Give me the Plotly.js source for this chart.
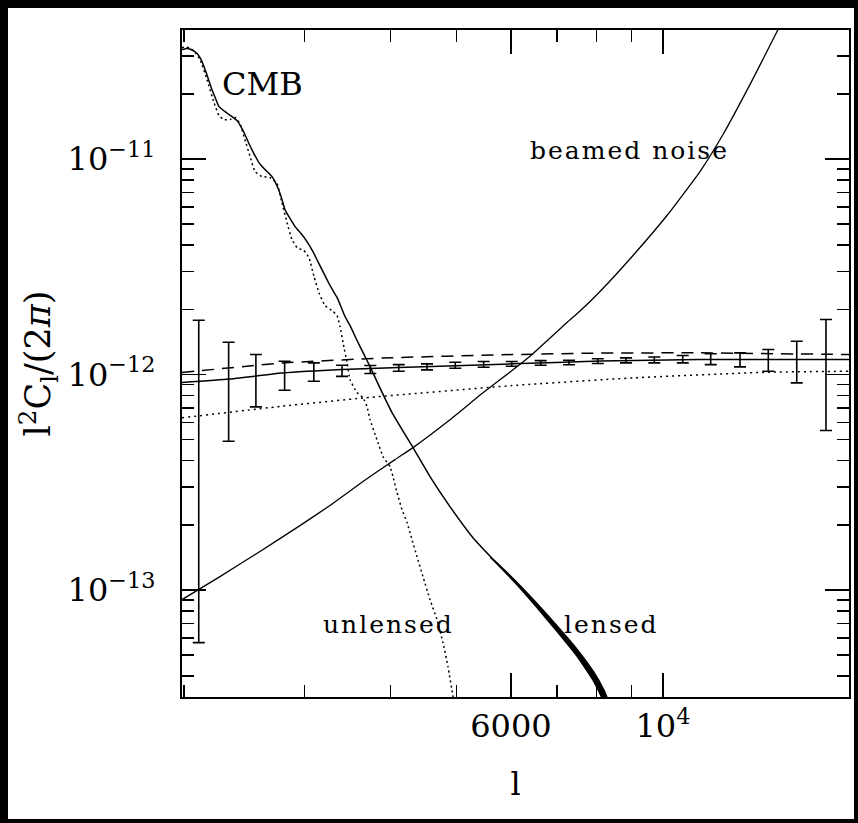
<!DOCTYPE html>
<html><head><meta charset="utf-8">
<script src="https://cdn.plot.ly/plotly-3.0.1.min.js"></script>
<style>
html,body{margin:0;padding:0;background:#000;width:858px;height:823px;overflow:hidden;}
#chart{position:absolute;left:8px;top:8px;width:846px;height:811px;background:#fff;}
.annotation-text{letter-spacing:2px;}
.annotation[data-index="0"] .annotation-text{letter-spacing:0px;}
</style></head><body><div id="chart"></div>
<script>
// ---- data ----
const lensedL = [1986,2020,2061,2089,2117,2146,2174,2196,2226,2249,2295,2349,2389,2421,2454,2487,2529,2572,2625,2687,2723,2751,2779,2807,2855,2904,2963,3023,3084,3147,3201,3255,3299,3344,3388,3435,3493,3576,3661,3736,3837,4023,4317,4571,4888,5281,5725,6124,6549,7003,7490,7906,8204,8371];
const lensedC = [3.22e-11,3.26e-11,3.19e-11,3.09e-11,2.90e-11,2.60e-11,2.31e-11,2.10e-11,1.89e-11,1.75e-11,1.66e-11,1.575e-11,1.51e-11,1.415e-11,1.30e-11,1.18e-11,1.06e-11,9.63e-12,8.94e-12,8.30e-12,7.70e-12,7.14e-12,6.49e-12,5.83e-12,5.30e-12,4.86e-12,4.51e-12,4.14e-12,3.72e-12,3.27e-12,2.94e-12,2.645e-12,2.45e-12,2.28e-12,2.07e-12,1.86e-12,1.69e-12,1.44e-12,1.24e-12,1.09e-12,9.08e-13,6.66e-13,4.58e-13,3.36e-13,2.44e-13,1.75e-13,1.33e-13,1.07e-13,8.47e-14,6.63e-14,5.13e-14,4.01e-14,3.20e-14,2.73e-14];

const bandL  = [5600,5725,6124,6549,7003,7490,7906,8204,8371];
const bandHi = [1.42e-13,1.335e-13,1.085e-13,8.66e-14,6.83e-14,5.32e-14,4.21e-14,3.43e-14,2.93e-14];
const bandLo = [1.42e-13,1.325e-13,1.058e-13,8.29e-14,6.44e-14,4.94e-14,3.82e-14,3.00e-14,2.54e-14];

const unlensedL = [1986,2013,2040,2068,2110,2160,2211,2249,2287,2333,2373,2413,2454,2496,2538,2598,2669,2733,2779,2826,2874,2923,2992,3043,3095,3147,3211,3288,3344,3378,3412,3458,3493,3576,3648,3698,3736,3824,3903,3996,4036,4091,4160,4231,4302,4375,4464,4571,4679,4774,4855,4938,4971];
const unlensedC = [3.29e-11,3.31e-11,3.27e-11,3.17e-11,2.895e-11,2.34e-11,1.83e-11,1.59e-11,1.525e-11,1.525e-11,1.56e-11,1.46e-11,1.23e-11,1.03e-11,8.75e-12,8.30e-12,8.21e-12,7.70e-12,6.28e-12,5.08e-12,4.23e-12,3.885e-12,3.76e-12,3.49e-12,2.85e-12,2.40e-12,2.09e-12,1.98e-12,1.88e-12,1.67e-12,1.41e-12,1.14e-12,9.48e-13,8.25e-13,7.82e-13,7.10e-13,6.18e-13,4.99e-13,4.16e-13,3.74e-13,3.36e-13,2.835e-13,2.36e-13,2.06e-13,1.715e-13,1.43e-13,1.155e-13,9.03e-14,7.30e-14,5.71e-14,4.42e-14,3.20e-14,2.73e-14];

const noiseL = [1986,2256,2581,2952,3266,3649,4064,4317,4872,5444,6022,6461,7244,7568,8094,9044,10137,11326,12238,13403,14723,15021];
const noiseC = [9.03e-14,1.155e-13,1.51e-13,1.99e-13,2.47e-13,3.19e-13,4.03e-13,4.58e-13,6.12e-13,8.16e-13,1.044e-12,1.25e-12,1.743e-12,1.971e-12,2.43e-12,3.57e-12,5.47e-12,8.75e-12,1.30e-11,2.22e-11,3.99e-11,4.59e-11];

const signalL = [1986,2325,2779,3400,4119,6022,8094,11326,18690];
const signalC = [9.18e-13,9.53e-13,1.016e-12,1.055e-12,1.078e-12,1.121e-12,1.155e-12,1.174e-12,1.174e-12];

const dashedL = [1986,2779,3890,6022,8094,11326,18690];
const dashedC = [1.022e-12,1.131e-12,1.193e-12,1.238e-12,1.258e-12,1.261e-12,1.238e-12];

const dottedL = [1986,2779,3674,6022,9044,14189,18690];
const dottedC = [6.30e-13,7.13e-13,7.80e-13,8.89e-13,9.65e-13,1.025e-12,1.036e-12];

const binL   = [2101,2323,2546,2804,3093,3401,3740,4115,4525,4976,5474,6015,6631,7294,8034,8834,9714,10688,11743,12958,14250,15680,17298];
const binC   = [9.22e-13,9.51e-13,9.73e-13,9.99e-13,1.032e-12,1.043e-12,1.056e-12,1.074e-12,1.086e-12,1.105e-12,1.115e-12,1.121e-12,1.133e-12,1.138e-12,1.154e-12,1.164e-12,1.170e-12,1.179e-12,1.180e-12,1.173e-12,1.171e-12,1.171e-12,1.175e-12];
const binErr = [8.65e-13,4.61e-13,2.65e-13,1.53e-13,1.01e-13,6.2e-14,4.5e-14,3.8e-14,3.5e-14,3.5e-14,3.4e-14,2.8e-14,2.8e-14,2.7e-14,2.9e-14,3.1e-14,3.7e-14,4.6e-14,6.8e-14,8.7e-14,1.35e-13,2.56e-13,6.25e-13];

const xRange = [1986, 18690];
const yRange = [3.19e-14, 3.97e-11];
const xMajorVals = [6000, 10000];
const xMajorText = ['6000', '10<sup>4</sup>'];
const xMinorVals = [2000,3000,4000,5000,7000,8000,9000];
const yMajorVals = [1e-13, 1e-12, 1e-11];
const yMajorText = ['10<sup>−13</sup>','10<sup>−12</sup>','10<sup>−11</sup>'];
const yMinorVals = [4e-14,5e-14,6e-14,7e-14,8e-14,9e-14,2e-13,3e-13,4e-13,5e-13,6e-13,7e-13,8e-13,9e-13,2e-12,3e-12,4e-12,5e-12,6e-12,7e-12,8e-12,9e-12,2e-11,3e-11];

const labels = [
  {text:'CMB', x:0.053, y:0.919, size:32},
  {text:'beamed noise', x:0.519, y:0.820, size:25},
  {text:'unlensed', x:0.2084, y:0.108, size:25},
  {text:'lensed', x:0.569, y:0.108, size:25}
];

// ---- drawing ----
const K = '#000';
const sm = 0.4;
const traces = [
  {x:lensedL, y:lensedC, mode:'lines', line:{color:K, width:1.5, shape:'spline', smoothing:sm}},
  {x:bandL, y:bandLo, mode:'lines', line:{color:K, width:1.5, shape:'spline', smoothing:sm}},
  {x:bandL, y:bandHi, mode:'lines', fill:'tonexty', fillcolor:K, line:{color:K, width:1.5, shape:'spline', smoothing:sm}},
  {x:unlensedL, y:unlensedC, mode:'lines', line:{color:K, width:1.5, dash:'2px,3px', shape:'spline', smoothing:sm}},
  {x:noiseL, y:noiseC, mode:'lines', line:{color:K, width:1.3, shape:'spline', smoothing:sm}},
  {x:signalL, y:signalC, mode:'lines', line:{color:K, width:1.5, shape:'spline', smoothing:sm}},
  {x:dashedL, y:dashedC, mode:'lines', xaxis:'x2', line:{color:K, width:1.5, dash:'12px,8px', shape:'spline', smoothing:sm}},
  {x:dottedL, y:dottedC, mode:'lines', yaxis:'y2', line:{color:K, width:1.5, dash:'2px,4px', shape:'spline', smoothing:sm}},
  {x:binL, y:binC, mode:'markers', marker:{size:1, color:K},
   error_y:{type:'data', array:binErr, visible:true, color:K, thickness:1.6, width:6}}
];

const fam = '"DejaVu Serif", serif';
const lg = v => v.map(Math.log10);
const axBase = {type:'log', showgrid:false, zeroline:false, showline:true, linecolor:K, linewidth:2,
  ticks:'inside', tickcolor:K, tickwidth:1.5, mirror:'ticks', automargin:false};

const layout = {
  width:846, height:811,
  margin:{l:174, r:5, t:22, b:122},
  paper_bgcolor:'#fff', plot_bgcolor:'#fff',
  showlegend:false, hovermode:false,
  font:{family:fam, size:32, color:K},
  xaxis:Object.assign({}, axBase, {range:lg(xRange), tickmode:'array', tickvals:xMajorVals, ticktext:xMajorText,
    ticklen:24, tickfont:{family:fam, size:32, color:K}, ticklabelstandoff:0,
    title:{text:'l', font:{family:fam, size:32, color:K}, standoff:28}}),
  xaxis2:Object.assign({}, axBase, {range:lg(xRange), overlaying:'x', anchor:'y', side:'bottom',
    tickmode:'array', tickvals:xMinorVals, ticklen:12, showticklabels:false}),
  yaxis:Object.assign({}, axBase, {range:lg(yRange), tickmode:'array', tickvals:yMajorVals, ticktext:yMajorText,
    ticklen:24, tickfont:{family:fam, size:32, color:K}, ticklabelstandoff:18,
    title:{text:'l<sup>2</sup>C<sub>l</sub>/(2<i>π</i>)', font:{family:fam, size:35, color:K}, standoff:6}}),
  yaxis2:Object.assign({}, axBase, {range:lg(yRange), overlaying:'y', anchor:'x', side:'left',
    tickmode:'array', tickvals:yMinorVals, ticklen:12, showticklabels:false}),
  annotations: labels.map(a => ({text:a.text, xref:'paper', yref:'paper', x:a.x, y:a.y,
    xanchor:'left', yanchor:'middle', showarrow:false, font:{family:fam, size:a.size, color:K}}))
};

Plotly.newPlot('chart', traces, layout, {displayModeBar:false, staticPlot:true});
</script></body></html>
